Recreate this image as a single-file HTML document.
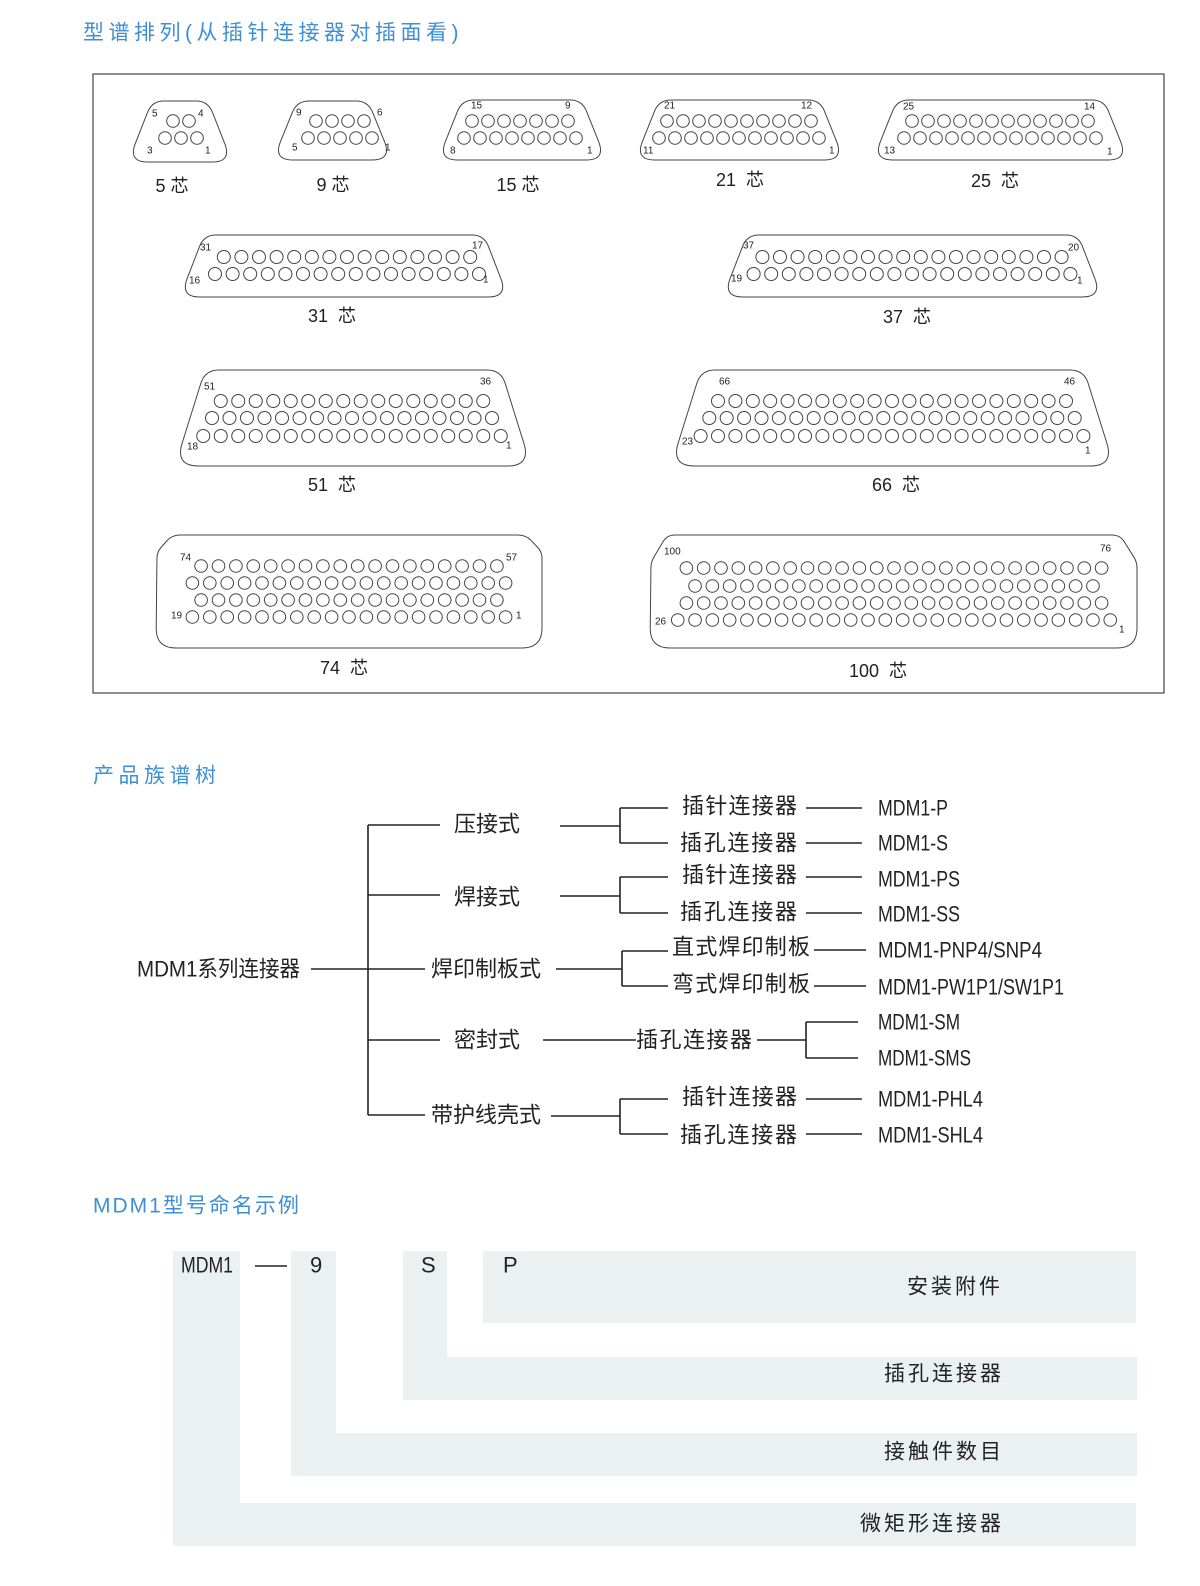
<!DOCTYPE html>
<html><head><meta charset="utf-8"><style>
html,body{margin:0;padding:0;background:#fff}
svg{display:block}
text{font-family:"Liberation Sans","Noto Sans CJK SC",sans-serif;dominant-baseline:central}
.h{fill:#3d8fd6;font-size:21px;letter-spacing:2px}
.h2{letter-spacing:4.5px}
.n{font-size:10px;fill:#222;font-family:"Liberation Sans Narrow","Liberation Sans",sans-serif}
.c{font-size:18px;fill:#222;text-anchor:middle}
.t{font-size:22px;fill:#222}
.m{font-size:22px;fill:#222}
.b{font-size:21px;fill:#222;letter-spacing:3px}
</style></head><body>
<svg id="s" width="1200" height="1586" viewBox="0 0 1200 1586" xmlns="http://www.w3.org/2000/svg">
<text class="h h2" x="83" y="33">型谱排列(从插针连接器对插面看)</text>
<rect x="93" y="74" width="1071" height="619" fill="none" stroke="#444" stroke-width="1.2"/>
<g id="shapes" fill="none" stroke="#444" stroke-width="1"></g>
<text class="n" x="152" y="114">5</text><text class="n" x="198" y="114">4</text><text class="n" x="147" y="151">3</text><text class="n" x="205" y="151">1</text>
<text class="n" x="296" y="113">9</text><text class="n" x="377" y="113">6</text><text class="n" x="292" y="148">5</text><text class="n" x="385" y="148">1</text>
<text class="n" x="471" y="106">15</text><text class="n" x="565" y="106">9</text><text class="n" x="450" y="151">8</text><text class="n" x="587" y="151">1</text>
<text class="n" x="664" y="106">21</text><text class="n" x="801" y="106">12</text><text class="n" x="643" y="151">11</text><text class="n" x="829" y="151">1</text>
<text class="n" x="903" y="107">25</text><text class="n" x="1084" y="107">14</text><text class="n" x="884" y="151">13</text><text class="n" x="1107" y="152">1</text>
<text class="n" x="200" y="248">31</text><text class="n" x="472" y="246">17</text><text class="n" x="189" y="281">16</text><text class="n" x="483" y="280">1</text>
<text class="n" x="743" y="246">37</text><text class="n" x="1068" y="248">20</text><text class="n" x="731" y="279">19</text><text class="n" x="1077" y="281">1</text>
<text class="n" x="204" y="387">51</text><text class="n" x="480" y="382">36</text><text class="n" x="187" y="447">18</text><text class="n" x="506" y="446">1</text>
<text class="n" x="719" y="382">66</text><text class="n" x="1064" y="382">46</text><text class="n" x="682" y="442">23</text><text class="n" x="1085" y="451">1</text>
<text class="n" x="180" y="558">74</text><text class="n" x="506" y="558">57</text><text class="n" x="171" y="616">19</text><text class="n" x="516" y="616">1</text>
<text class="n" x="664" y="552">100</text><text class="n" x="1100" y="549">76</text><text class="n" x="655" y="622">26</text><text class="n" x="1119" y="630">1</text>
<text class="c" x="172" y="186">5 芯</text>
<text class="c" x="333" y="185">9 芯</text>
<text class="c" x="518" y="185">15 芯</text>
<text class="c" x="740" y="180">21 &#160;芯</text>
<text class="c" x="995" y="181">25 &#160;芯</text>
<text class="c" x="332" y="316">31 &#160;芯</text>
<text class="c" x="907" y="317">37 &#160;芯</text>
<text class="c" x="332" y="485">51 &#160;芯</text>
<text class="c" x="896" y="485">66 &#160;芯</text>
<text class="c" x="344" y="668">74 &#160;芯</text>
<text class="c" x="878" y="671">100 &#160;芯</text>

<text class="h h2" x="93" y="776">产品族谱树</text>
<g stroke="#222" stroke-width="1.6" fill="none">
<path d="M311 969H368M368 825V1115M368 825H440M368 895H440M368 969H425M368 1040H440M368 1115H425"/>
<path d="M560 826H620M620 808V843M620 808H668M620 843H668M806 808H862M806 843H862"/>
<path d="M560 896H620M620 877V913M620 877H668M620 913H668M806 877H862M806 913H862"/>
<path d="M556 969H622M622 951V986M622 951H668M622 986H668M814 950H866M814 986H866"/>
<path d="M543 1040H636M757 1040H806M806 1022V1058M806 1022H858M806 1058H858"/>
<path d="M551 1116H620M620 1099V1134M620 1099H668M620 1134H668M806 1099H862M806 1134H862"/>
</g>
<text class="t" x="137" y="969" textLength="163" lengthAdjust="spacingAndGlyphs">MDM1系列连接器</text>
<text class="t" x="454" y="824">压接式</text>
<text class="t" x="454" y="897">焊接式</text>
<text class="t" x="431" y="969">焊印制板式</text>
<text class="t" x="454" y="1040">密封式</text>
<text class="t" x="431" y="1115">带护线壳式</text>
<text class="t" x="682" y="806" textLength="115">插针连接器</text>
<text class="t" x="680" y="843" textLength="117">插孔连接器</text>
<text class="t" x="682" y="875" textLength="115">插针连接器</text>
<text class="t" x="680" y="912" textLength="117">插孔连接器</text>
<text class="t" x="672" y="947" textLength="138">直式焊印制板</text>
<text class="t" x="672" y="984" textLength="138">弯式焊印制板</text>
<text class="t" x="636" y="1040" textLength="116">插孔连接器</text>
<text class="t" x="682" y="1097" textLength="115">插针连接器</text>
<text class="t" x="680" y="1135" textLength="117">插孔连接器</text>
<text class="m" x="878" y="808" textLength="70" lengthAdjust="spacingAndGlyphs">MDM1-P</text>
<text class="m" x="878" y="843" textLength="70" lengthAdjust="spacingAndGlyphs">MDM1-S</text>
<text class="m" x="878" y="879" textLength="82" lengthAdjust="spacingAndGlyphs">MDM1-PS</text>
<text class="m" x="878" y="914" textLength="82" lengthAdjust="spacingAndGlyphs">MDM1-SS</text>
<text class="m" x="878" y="950" textLength="164" lengthAdjust="spacingAndGlyphs">MDM1-PNP4/SNP4</text>
<text class="m" x="878" y="987" textLength="186" lengthAdjust="spacingAndGlyphs">MDM1-PW1P1/SW1P1</text>
<text class="m" x="878" y="1022" textLength="82" lengthAdjust="spacingAndGlyphs">MDM1-SM</text>
<text class="m" x="878" y="1058" textLength="93" lengthAdjust="spacingAndGlyphs">MDM1-SMS</text>
<text class="m" x="878" y="1099" textLength="105" lengthAdjust="spacingAndGlyphs">MDM1-PHL4</text>
<text class="m" x="878" y="1135" textLength="105" lengthAdjust="spacingAndGlyphs">MDM1-SHL4</text>

<text class="h" x="93" y="1206">MDM1型号命名示例</text>
<g fill="#ebf0f0">
<rect x="173" y="1251" width="67" height="295"/>
<rect x="173" y="1503" width="963" height="43"/>
<rect x="291" y="1251" width="45" height="225"/>
<rect x="291" y="1433" width="846" height="43"/>
<rect x="403" y="1251" width="44" height="149"/>
<rect x="403" y="1357" width="734" height="43"/>
<rect x="483" y="1251" width="653" height="72"/>
</g>
<text class="m" x="181" y="1265" textLength="52" lengthAdjust="spacingAndGlyphs">MDM1</text>
<line x1="255" y1="1266" x2="287" y2="1266" stroke="#222" stroke-width="1.5"/>
<text class="m" x="310" y="1265">9</text>
<text class="m" x="421" y="1265">S</text>
<text class="m" x="503" y="1265">P</text>
<text class="b" x="907" y="1287">安装附件</text>
<text class="b" x="884" y="1374">插孔连接器</text>
<text class="b" x="884" y="1452">接触件数目</text>
<text class="b" x="860" y="1524">微矩形连接器</text>
</svg>
<script>
var g=document.getElementById('shapes'),NS='http://www.w3.org/2000/svg';
function rpoly(pts,rs){var d='',n=pts.length;
 for(var i=0;i<n;i++){var p=pts[i],a=pts[(i+n-1)%n],b=pts[(i+1)%n],r=rs[i];
  var la=Math.hypot(a[0]-p[0],a[1]-p[1]),lb=Math.hypot(b[0]-p[0],b[1]-p[1]);
  var s=[p[0]+(a[0]-p[0])*r/la,p[1]+(a[1]-p[1])*r/la],e=[p[0]+(b[0]-p[0])*r/lb,p[1]+(b[1]-p[1])*r/lb];
  d+=(i?'L':'M')+s[0]+' '+s[1]+'Q'+p[0]+' '+p[1]+' '+e[0]+' '+e[1];}
 var el=document.createElementNS(NS,'path');el.setAttribute('d',d+'Z');g.appendChild(el);}
function dsub(x1,x2,y1,y2,d,rt,rb){rpoly([[x1+d,y1],[x2-d,y1],[x2,y2],[x1,y2]],[rt,rt,rb,rb]);}
function rows(cx,sp,r,list){list.forEach(function(q){var n=q[0],y=q[1];for(var i=0;i<n;i++){var c=document.createElementNS(NS,'circle');
 c.setAttribute('cx',cx+(i-(n-1)/2)*sp);c.setAttribute('cy',y);c.setAttribute('r',r);g.appendChild(c);}});}
dsub(128,232,101,162,24,12,20);rows(181,16,6.3,[[2,121],[3,138]]);
dsub(273,392,101,160,24,12,20);rows(340,16,6.3,[[4,121],[5,138]]);
dsub(438,606,100,160,24,12,20);rows(520,16,6.3,[[7,121],[8,138]]);
dsub(635,844,100,160,24,12,20);rows(739,16,6.3,[[10,121],[11,138]]);
dsub(873,1128,100,160,24,12,20);rows(1000,16,6.3,[[12,121],[13,138]]);
dsub(180,508,235,297,24,12,20);rows(347,17.6,6.5,[[15,257],[16,274]]);
dsub(723,1102,235,297,24,12,20);rows(912,17.6,6.5,[[18,257],[19,274]]);
dsub(175,531,370,466,30,14,24);rows(352,17.5,6.5,[[16,401],[17,418],[18,436]]);
dsub(671,1114,370,466,30,14,24);rows(892,17.4,6.5,[[21,401],[22,418],[23,436]]);
rpoly([[157,552],[172,535],[526,535],[542,552],[542,648],[156,648]],[6,8,8,6,20,20]);
rows(349,17.4,6.3,[[18,566],[19,583],[18,600],[19,617]]);
rpoly([[651,562],[667,535],[1120,535],[1137,562],[1137,648],[650,648]],[6,8,8,6,20,20]);
rows(894,17.3,6.3,[[25,568],[24,586],[25,603],[26,620]]);
</script>
</body></html>
